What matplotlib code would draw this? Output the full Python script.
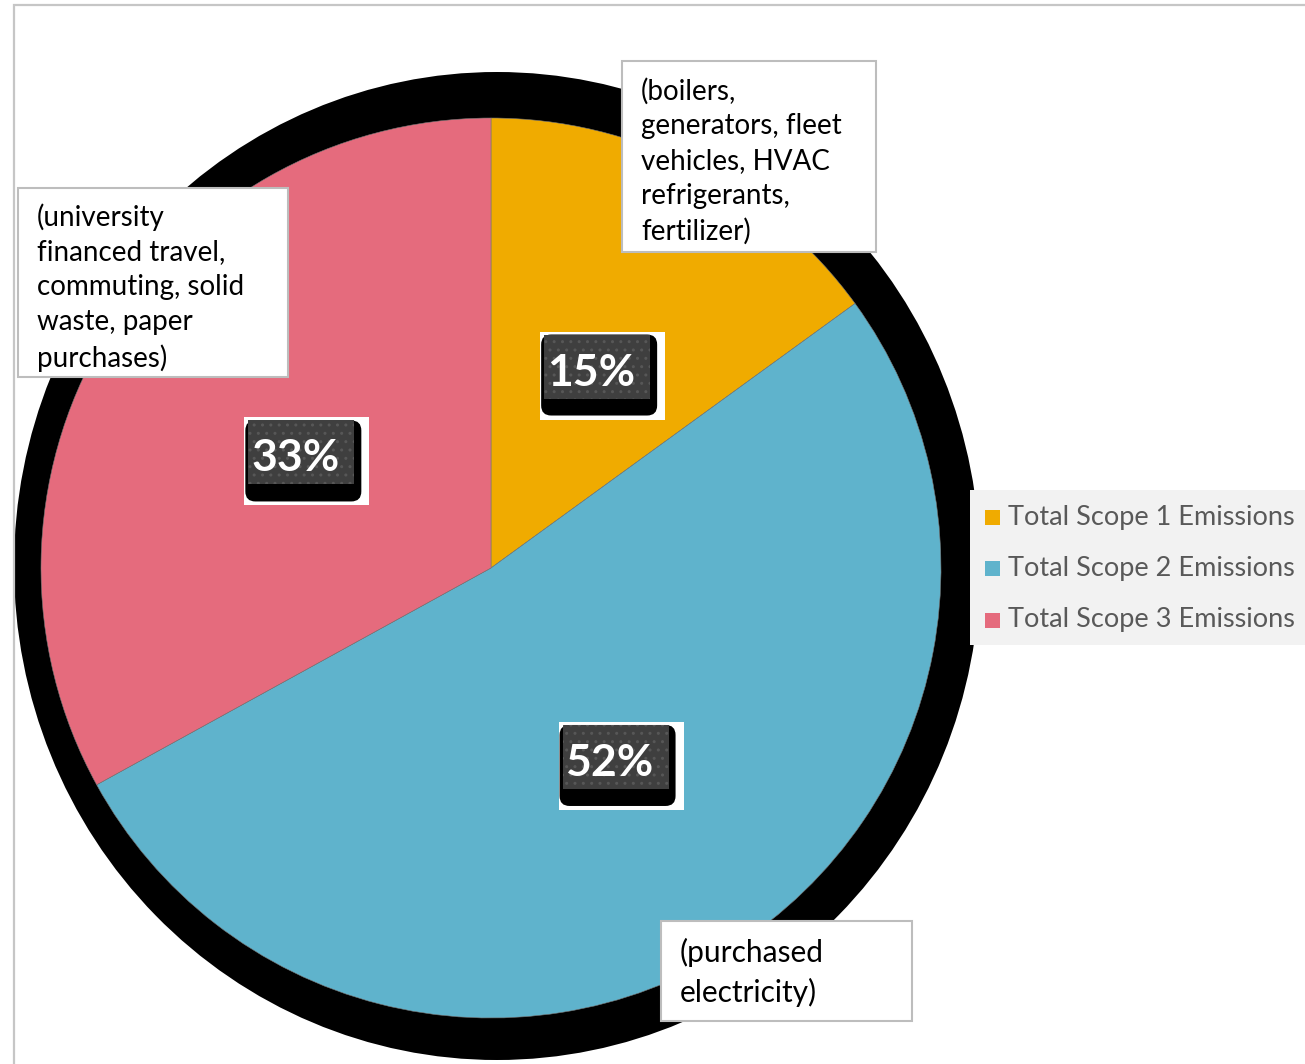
import matplotlib.pyplot as plt
from matplotlib.patches import Ellipse, Rectangle, FancyBboxPatch
from matplotlib.transforms import ScaledTranslation

categories = ['Total Scope 1 Emissions', 'Total Scope 2 Emissions', 'Total Scope 3 Emissions']
shares = [15, 52, 33]
colors = ['#F0AB00', '#5FB3CC', '#E56B7D']
notes = ['(boilers,\ngenerators, fleet\nvehicles, HVAC\nrefrigerants,\nfertilizer)',
         '(purchased\nelectricity)',
         '(university\nfinanced travel,\ncommuting, solid\nwaste, paper\npurchases)']

plt.rcParams['font.family'] = ['Lato', 'DejaVu Sans']

W, H = 1305, 1064
fig = plt.figure(figsize=(W / 100, H / 100), dpi=100)
ax = fig.add_axes([0, 0, 1, 1])
ax.axis('off')

# pie centre at pixel (491, 568), radius 450 px
cx, cy, R = 491, 568, 450

# outer frame
fig.patches.append(Rectangle((14 / W, -0.01), 1.1, 1 - 5 / H + 0.01, transform=fig.transFigure,
                             fill=False, edgecolor='#c6c6c6', linewidth=1.6, zorder=0))

# black shadow behind the pie
ax.add_patch(Ellipse(((497 - cx) / R, (cy - 566) / R), 966 / R, 988 / R,
                     facecolor='black', edgecolor='none', zorder=0))

wedges, texts, autotexts = ax.pie(shares, colors=colors, startangle=90, counterclock=False,
                                  autopct='%d%%', pctdistance=0.5, radius=1,
                                  wedgeprops=dict(linewidth=0.4, edgecolor='#777777'))
for w in wedges:
    w.set_zorder(1)

ax.set_aspect('auto')
ax.set_xlim(-cx / R, (W - cx) / R)
ax.set_ylim(-(H - cy) / R, cy / R)

# label boxes, sized in pixels around each percentage
px = 1 / 100
for t in autotexts:
    x, y = t.get_position()
    x += 4 / R
    y -= 6 / R
    tr = fig.dpi_scale_trans + ScaledTranslation(x, y, ax.transData)
    ax.add_patch(Rectangle((-57 * px, -46 * px), 125 * px, 88 * px, transform=tr,
                           facecolor='white', edgecolor='none', zorder=4))
    ax.add_patch(FancyBboxPatch((-50 * px, -36 * px), 104 * px, 69 * px, transform=tr,
                                boxstyle='round,pad=%f,rounding_size=%f' % (6 * px, 10 * px),
                                facecolor='black', edgecolor='none', zorder=4.2))
    ax.add_patch(Rectangle((-53 * px, -25 * px), 106 * px, 64 * px, transform=tr,
                           facecolor='#3f3f3f', edgecolor='#575757', linewidth=0,
                           hatch='..', zorder=4.4))
    t.set_position((x - 6 / R, y + 1 / R))
    t.set_color('white')
    t.set_fontsize(32)
    t.set_fontweight('bold')
    t.set_zorder(5)

# annotation boxes (top-left corner in pixels)
note_pos = [(622, 61, 254, 191), (661, 921, 251, 100), (18, 188, 270, 189)]
note_size = [20, 21.5, 20]
note_ls = [1.41, 1.46, 1.42]
note_pad = [17, 17, 15]
for txt, (x0, y0, bw, bh), fs, ls, pd in zip(notes, note_pos, note_size, note_ls, note_pad):
    fig.patches.append(Rectangle((x0 / W, 1 - (y0 + bh) / H), bw / W, bh / H,
                                 transform=fig.transFigure, facecolor='white',
                                 edgecolor='#bdbdbd', linewidth=1.5, zorder=3))
    fig.text((x0 + 19) / W, 1 - (y0 + pd) / H, txt, ha='left', va='top', fontsize=fs,
             color='black', linespacing=ls, zorder=4)

# legend
fig.patches.append(Rectangle((970 / W, 1 - 645 / H), 340 / W, 155 / H, transform=fig.transFigure,
                             facecolor='#F2F2F2', edgecolor='none', zorder=3))
for i, (lab, c) in enumerate(zip(categories, colors)):
    y = 1 - (517 + i * 51.5) / H
    fig.patches.append(Rectangle((985 / W, y - 7.5 / H), 15 / W, 15 / H, transform=fig.transFigure,
                                 facecolor=c, edgecolor='none', zorder=4))
    fig.text(1008 / W, y, lab, ha='left', va='center', fontsize=19.5, color='#595959', zorder=4)

fig.savefig('out.png', dpi=100)
